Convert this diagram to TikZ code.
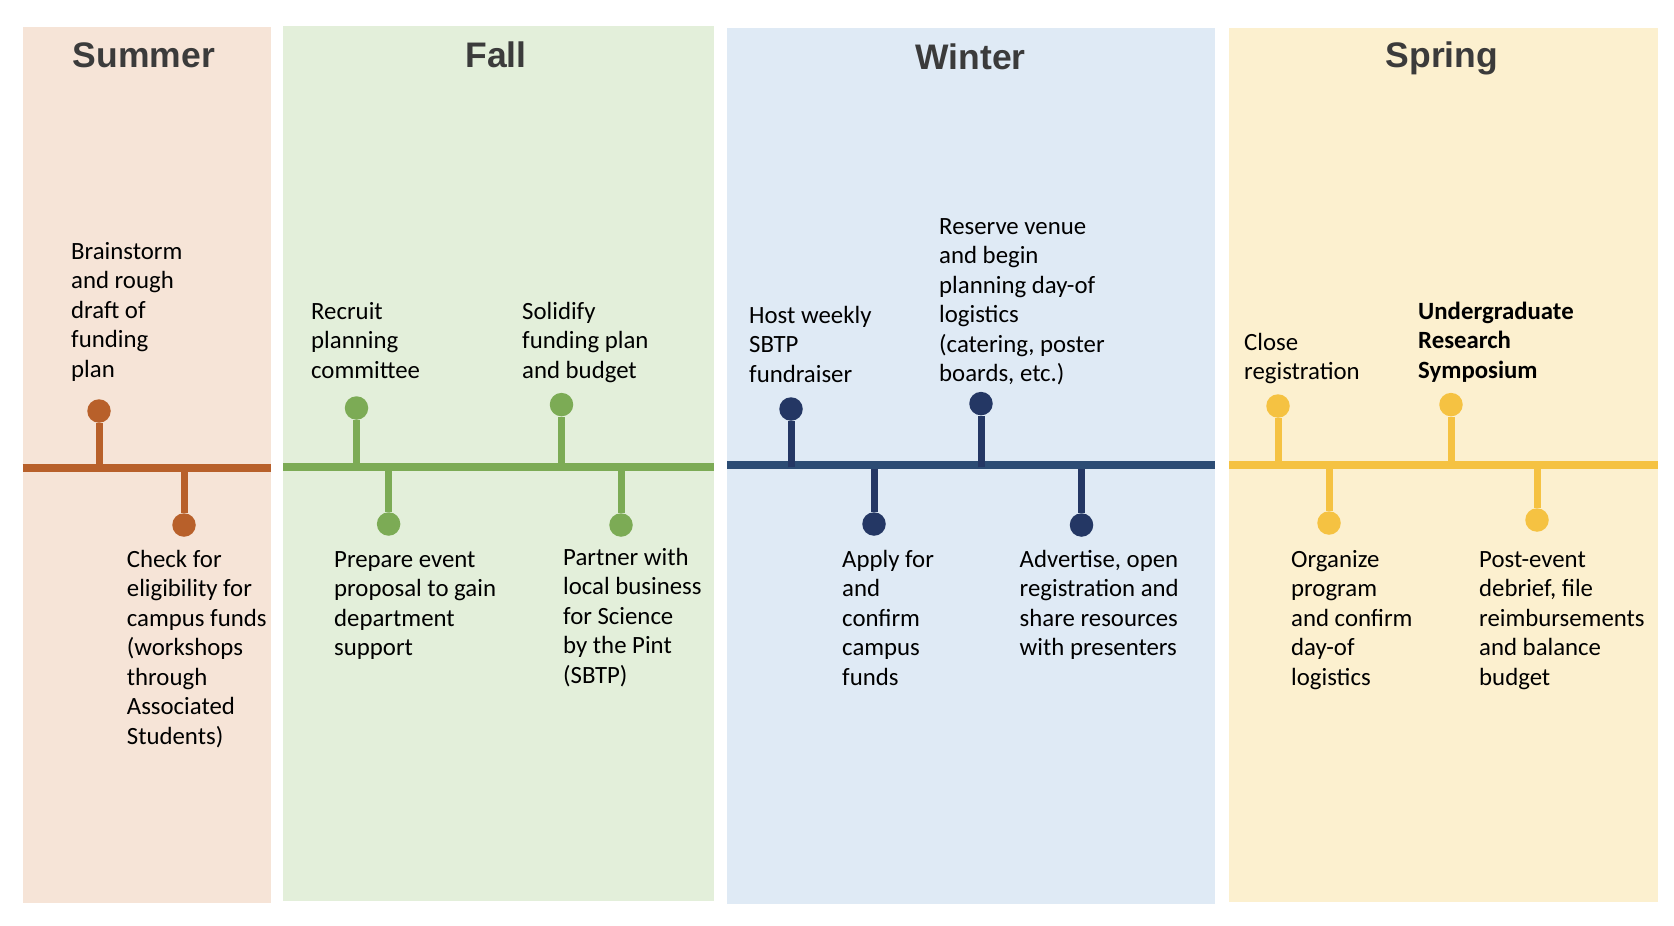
\documentclass[tikz,border=0pt]{standalone}
\usepackage{fontspec}
\setmainfont{Carlito}
\newfontfamily\titlefont{Liberation Sans}
\definecolor{summerbg}{HTML}{F6E4D7}
\definecolor{summerln}{HTML}{B8602A}
\definecolor{fallbg}{HTML}{E3EFDA}
\definecolor{fallln}{HTML}{7CAB55}
\definecolor{winterbg}{HTML}{DFEAF5}
\definecolor{winterln}{HTML}{2C4C74}
\definecolor{winterdk}{HTML}{243764}
\definecolor{springbg}{HTML}{FCF0CF}
\definecolor{springln}{HTML}{F5C242}
\definecolor{titlegray}{HTML}{3B3B3B}
\begin{document}
\begin{tikzpicture}[x=1pt,y=-1pt,
  panel/.style={draw=none},
  stem/.style={line width=7pt},
  tline/.style={line width=8pt},
  dot/.style={circle,inner sep=0pt,minimum size=23.5pt},
  lbl/.style={anchor=base west,align=left,inner sep=0pt,font=\fontsize{24.8}{29.5}\selectfont},
  ttl/.style={anchor=base,inner sep=0pt,text=titlegray,font=\titlefont\bfseries\fontsize{35.5}{40}\selectfont}]
\useasboundingbox (0,0) rectangle (1674,926);
% panels
\fill[summerbg] (22.7,27.3) rectangle (271,903);
\fill[fallbg] (283,26) rectangle (714,901);
\fill[winterbg] (727,28) rectangle (1215,903.5);
\fill[springbg] (1229,28) rectangle (1658,902);
% titles
\node[ttl] (tsu) at (144,67.7) {Summer};
\node[ttl] (tfa) at (496,67.7) {Fall};
\node[ttl] (twi) at (970.5,69) {Winter};
\node[ttl] (tsp) at (1442,67.7) {Spring};
% ---------- Summer
\coordinate (suL) at (22.7,468);
\coordinate (suR) at (271,468);
\coordinate (su1b) at (99,468);
\coordinate (su2b) at (184,468);
\node[dot,fill=summerln] (su1) at (99,411) {};
\node[dot,fill=summerln] (su2) at (184,525) {};
\draw[stem,summerln] (su1b) -- (su1);
\draw[stem,summerln] (su2b) -- (su2);
\draw[tline,summerln] (suL) -- (suR);
\node[lbl] (lsu1) at (71,377.3) {Brainstorm\\and rough\\draft of\\funding\\plan};
\node[lbl] (lsu2) at (126.7,744) {Check for\\eligibility for\\campus funds\\(workshops\\through\\Associated\\Students)};
% ---------- Fall
\coordinate (faL) at (283,466.5);
\coordinate (faR) at (714,466.5);
\coordinate (fa1b) at (356.5,466.5);
\coordinate (fa2b) at (561.5,466.5);
\coordinate (fa3b) at (388.6,466.5);
\coordinate (fa4b) at (621,466.5);
\node[dot,fill=fallln] (fa1) at (356.5,408) {};
\node[dot,fill=fallln] (fa2) at (561.5,404.6) {};
\node[dot,fill=fallln] (fa3) at (388.6,524) {};
\node[dot,fill=fallln] (fa4) at (621,525) {};
\draw[stem,fallln] (fa1b) -- (fa1);
\draw[stem,fallln] (fa2b) -- (fa2);
\draw[stem,fallln] (fa3b) -- (fa3);
\draw[stem,fallln] (fa4b) -- (fa4);
\draw[tline,fallln] (faL) -- (faR);
\node[lbl] (lfa1) at (311,378) {Recruit\\planning\\committee};
\node[lbl] (lfa2) at (522,378) {Solidify\\funding plan\\and budget};
\node[lbl] (lfa3) at (334,655.5) {Prepare event\\proposal to gain\\department\\support};
\node[lbl] (lfa4) at (563,683) {Partner with\\local business\\for Science\\by the Pint\\(SBTP)};
% ---------- Winter
\coordinate (wiL) at (727,465);
\coordinate (wiR) at (1215,465);
\coordinate (wi1b) at (791,467);
\coordinate (wi2b) at (981,467);
\coordinate (wi3b) at (874,465);
\coordinate (wi4b) at (1081.5,465);
\node[dot,fill=winterdk] (wi1) at (791,409) {};
\node[dot,fill=winterdk] (wi2) at (981,403.6) {};
\node[dot,fill=winterdk] (wi3) at (874,524) {};
\node[dot,fill=winterdk] (wi4) at (1081.5,525) {};
\draw[stem,winterdk] (wi3b) -- (wi3);
\draw[stem,winterdk] (wi4b) -- (wi4);
\draw[tline,winterln] (wiL) -- (wiR);
\draw[stem,winterdk] (wi1b) -- (wi1);
\draw[stem,winterdk] (wi2b) -- (wi2);
\node[lbl] (lwi1) at (749,382) {Host weekly\\SBTP\\fundraiser};
\node[lbl] (lwi2) at (939,381.5) {Reserve venue\\and begin\\planning day-of\\logistics\\(catering, poster\\boards, etc.)};
\node[lbl] (lwi3) at (842,685) {Apply for\\and\\confirm\\campus\\funds};
\node[lbl] (lwi4) at (1019.5,655.5) {Advertise, open\\registration and\\share resources\\with presenters};
% ---------- Spring
\coordinate (spL) at (1229,465);
\coordinate (spR) at (1658,465);
\coordinate (sp1b) at (1278,465);
\coordinate (sp2b) at (1451,465);
\coordinate (sp3b) at (1329,465);
\coordinate (sp4b) at (1537,465);
\node[dot,fill=springln] (sp1) at (1278,406) {};
\node[dot,fill=springln] (sp2) at (1451,404.6) {};
\node[dot,fill=springln] (sp3) at (1329,523) {};
\node[dot,fill=springln] (sp4) at (1537,520) {};
\draw[stem,springln] (sp1b) -- (sp1);
\draw[stem,springln] (sp2b) -- (sp2);
\draw[stem,springln] (sp3b) -- (sp3);
\draw[stem,springln] (sp4b) -- (sp4);
\draw[tline,springln] (spL) -- (spR);
\node[lbl] (lsp1) at (1244,379.5) {Close\\registration};
\node[lbl,font=\fontsize{24.8}{29.5}\selectfont\bfseries] (lsp2) at (1418,378) {Undergraduate\\Research\\Symposium};
\node[lbl] (lsp3) at (1291,685) {Organize\\program\\and confirm\\day-of\\logistics};
\node[lbl] (lsp4) at (1479,685) {Post-event\\debrief, file\\reimbursements\\and balance\\budget};
\end{tikzpicture}
\end{document}
